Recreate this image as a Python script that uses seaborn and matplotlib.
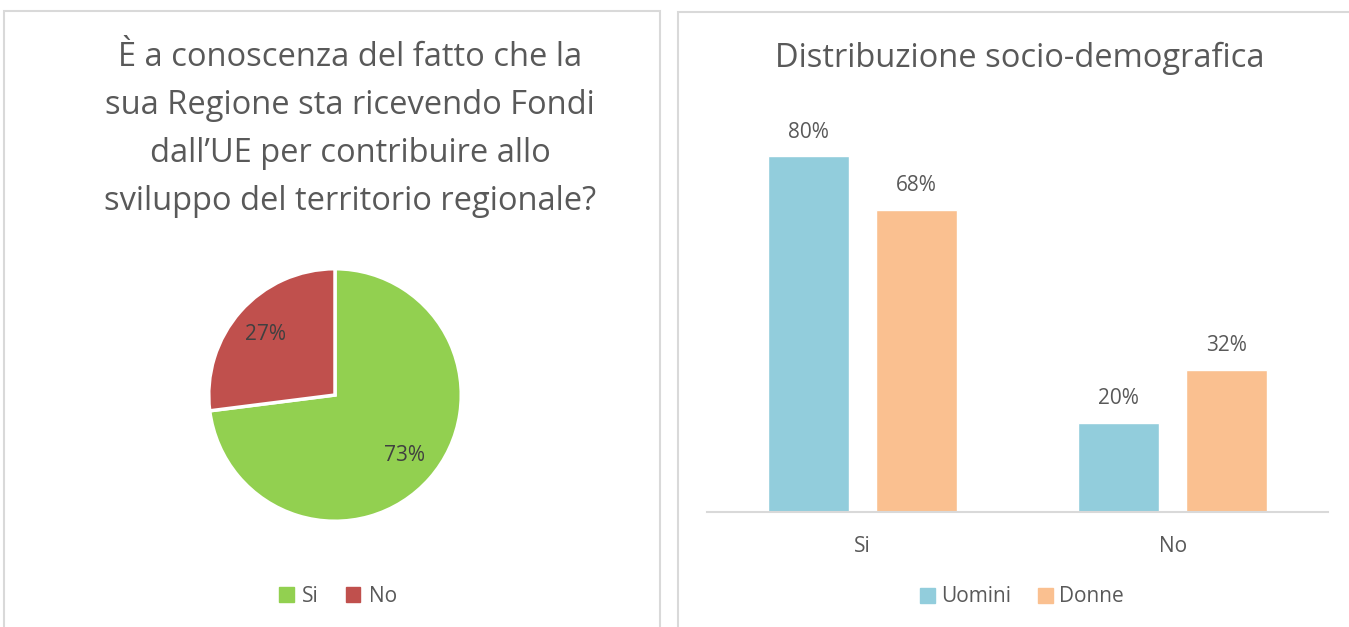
import matplotlib
matplotlib.use("Agg")
import matplotlib.pyplot as plt
import seaborn as sns
import pandas as pd
from matplotlib.patches import Rectangle, Patch

# ---- data ----
pie_labels = ["Si", "No"]
pie_values = [73, 27]
pie_colors = ["#92D050", "#C0504D"]

bar_categories = ["Si", "No"]
series_names = ["Uomini", "Donne"]
uomini_values = [80, 20]
donne_values = [68, 32]
bar_colors = ["#92CDDC", "#FAC090"]

left_title = "È a conoscenza del fatto che la\nsua Regione sta ricevendo Fondi\ndall’UE per contribuire allo\nsviluppo del territorio regionale?"
right_title = "Distribuzione socio-demografica"

sns.set_theme(style="white")
plt.rcParams["font.family"] = ["Open Sans", "DejaVu Sans"]
TXT = "#595959"
FS = 15

W, H = 1349, 627
fig = plt.figure(figsize=(W / 100, H / 100), dpi=100)
fig.patch.set_facecolor("white")

def fx(x):
    return x / W

def fy(y):
    return 1 - y / H

# panel frames
for (x0, y0, x1, y1) in [(3.5, 10.5, 659.5, 640), (677.5, 11.5, 1360, 640)]:
    fig.add_artist(Rectangle((fx(x0), fy(y1)), fx(x1) - fx(x0), fy(y0) - fy(y1),
                             transform=fig.transFigure, fill=False,
                             edgecolor="#D9D9D9", linewidth=1.5, clip_on=False))

# ---- pie ----
axp = fig.add_axes([fx(210), fy(520), fx(250), (250 / H)])
wedges, texts, autotexts = axp.pie(
    pie_values, colors=pie_colors, startangle=90, counterclock=False,
    radius=1, autopct=lambda p: f"{p:.0f}%", pctdistance=0.73,
    wedgeprops=dict(edgecolor="white", linewidth=2.5),
    textprops=dict(color="#404040", fontsize=FS))
axp.set_xlim(-0.99, 0.99)
axp.set_ylim(-0.99, 0.99)
axp.axis("off")

fig.text(fx(350), fy(129), left_title, ha="center", va="center",
         multialignment="center", fontsize=23.5, color=TXT, linespacing=1.6)

axp.legend(handles=[Patch(color=c, label=l) for c, l in zip(pie_colors, pie_labels)],
           loc="center", bbox_to_anchor=(fx(338), fy(596)), bbox_transform=fig.transFigure,
           ncol=2, frameon=False, fontsize=FS, handlelength=0.7, handleheight=0.7,
           handletextpad=0.4, columnspacing=1.3, labelcolor=TXT)

# ---- bars ----
df = pd.DataFrame({
    "Categoria": bar_categories * 2,
    "Serie": [series_names[0]] * len(bar_categories) + [series_names[1]] * len(bar_categories),
    "Valore": uomini_values + donne_values,
})
axb = fig.add_axes([fx(707), fy(512), fx(1328) - fx(707), 400 / H])
sns.barplot(data=df, x="Categoria", y="Valore", hue="Serie", palette=bar_colors,
            width=0.696, gap=0.253, ax=axb, legend=False, saturation=1, errorbar=None)
axb.set_ylim(0, 90)
axb.set_xlim(-0.5, 1.5)
for c in axb.containers:
    axb.bar_label(c, labels=[f"{v:.0f}%" for v in c.datavalues], padding=10,
                  fontsize=FS, color=TXT)
for s in ["top", "right", "left"]:
    axb.spines[s].set_visible(False)
axb.spines["bottom"].set_color("#D9D9D9")
axb.spines["bottom"].set_linewidth(1.5)
axb.set_yticks([])
axb.set_xlabel("")
axb.set_ylabel("")
axb.tick_params(axis="x", length=0, pad=17, labelsize=FS, labelcolor=TXT)
axb.set_facecolor("none")

fig.text(fx(1019.5), fy(58), right_title, ha="center", va="center",
         fontsize=23.5, color=TXT)

axb.legend(handles=[Patch(color=c, label=l) for c, l in zip(bar_colors, series_names)],
           loc="center", bbox_to_anchor=(fx(1022), fy(597)), bbox_transform=fig.transFigure,
           ncol=2, frameon=False, fontsize=FS, handlelength=0.7, handleheight=0.7,
           handletextpad=0.3, columnspacing=1.3, labelcolor=TXT)

fig.savefig("out.png", dpi=100, facecolor="white")
